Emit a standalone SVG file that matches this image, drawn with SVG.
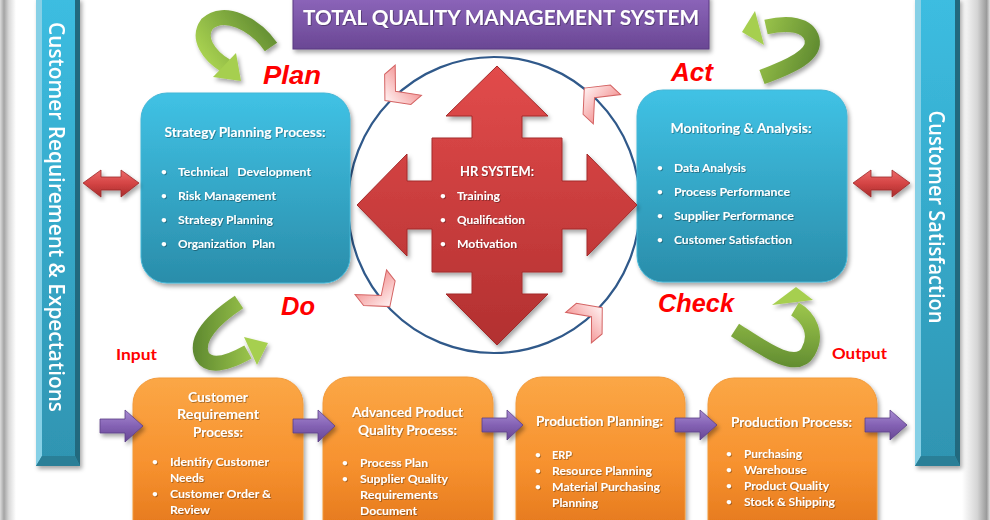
<svg xmlns="http://www.w3.org/2000/svg" width="990" height="520" viewBox="0 0 990 520">
<defs>
<style>
.t{font-family:Lato,"Open Sans","Liberation Sans",sans-serif;font-weight:700;fill:#fff;}
.hd{font-size:13px;text-anchor:middle;}
.it{font-size:12px;}
.bu{font-size:10px;}
.bar{font-family:"Open Sans",Lato,sans-serif;font-weight:600;font-size:21px;fill:#fff;text-anchor:middle;}
.lbl{font-family:"Liberation Sans",Arial,sans-serif;font-weight:700;font-style:italic;fill:#ff0000;font-size:26px;}
.io{font-family:Lato,"Liberation Sans",sans-serif;font-weight:700;fill:#ff0000;font-size:15px;}
.blue{fill:url(#gBlue);stroke:#45b6d6;stroke-width:1;}
.org{fill:url(#gOrg);stroke:#f29a3a;stroke-width:1;}
.pur{fill:url(#gPur);stroke:#5b3f86;stroke-width:0.8;}
.dbl{fill:url(#gRed2);stroke:#9c2b2b;stroke-width:0.8;}
.gr{fill:none;stroke-width:15;}
.sp{white-space:pre;}
</style>
<linearGradient id="gBlue" x1="0" y1="0" x2="0" y2="1"><stop offset="0" stop-color="#40c2e5"/><stop offset="1" stop-color="#2a8daa"/></linearGradient>
<linearGradient id="gOrg" x1="0" y1="0" x2="0" y2="1"><stop offset="0" stop-color="#fba746"/><stop offset="0.5" stop-color="#f7922f"/><stop offset="1" stop-color="#e07218"/></linearGradient>
<linearGradient id="gPur" x1="0" y1="0" x2="0" y2="1"><stop offset="0" stop-color="#a88bd2"/><stop offset="0.5" stop-color="#8462b4"/><stop offset="1" stop-color="#674694"/></linearGradient>
<linearGradient id="gTitle" x1="0" y1="0" x2="0" y2="1"><stop offset="0" stop-color="#8d66bb"/><stop offset="1" stop-color="#6a4794"/></linearGradient>
<linearGradient id="gRed" x1="0" y1="0" x2="0" y2="1"><stop offset="0" stop-color="#e24b4b"/><stop offset="1" stop-color="#b23030"/></linearGradient>
<linearGradient id="gRed2" x1="0" y1="0" x2="0" y2="1"><stop offset="0" stop-color="#ec6a6a"/><stop offset="0.5" stop-color="#d44444"/><stop offset="1" stop-color="#a82c2c"/></linearGradient>
<linearGradient id="gPink" x1="0" y1="0" x2="1" y2="0"><stop offset="0" stop-color="#f49a9a"/><stop offset="1" stop-color="#fff2f2"/></linearGradient>
<linearGradient id="gBarFace" x1="0" y1="0" x2="0" y2="1"><stop offset="0" stop-color="#3cbde1"/><stop offset="1" stop-color="#2f94b1"/></linearGradient>
<linearGradient id="gEdgeL" x1="0" y1="0" x2="1" y2="0"><stop offset="0" stop-color="#dcdcdc"/><stop offset="0.25" stop-color="#a4a4a4"/><stop offset="0.55" stop-color="#d8d8d8"/><stop offset="1" stop-color="#ffffff"/></linearGradient>
<linearGradient id="gEdgeR" x1="0" y1="0" x2="1" y2="0"><stop offset="0" stop-color="#ffffff"/><stop offset="0.55" stop-color="#d4d4d4"/><stop offset="0.88" stop-color="#9a9a9a"/><stop offset="1" stop-color="#e2e2e2"/></linearGradient>
<linearGradient id="gG1" gradientUnits="userSpaceOnUse" x1="280" y1="35" x2="220" y2="80"><stop offset="0" stop-color="#5f8a30"/><stop offset="1" stop-color="#a9d251"/></linearGradient>
<linearGradient id="gG2" gradientUnits="userSpaceOnUse" x1="820" y1="50" x2="745" y2="25"><stop offset="0" stop-color="#5f8a30"/><stop offset="1" stop-color="#a9d251"/></linearGradient>
<linearGradient id="gG3" gradientUnits="userSpaceOnUse" x1="195" y1="345" x2="265" y2="345"><stop offset="0" stop-color="#5f8a30"/><stop offset="1" stop-color="#a9d251"/></linearGradient>
<linearGradient id="gG4" gradientUnits="userSpaceOnUse" x1="790" y1="370" x2="795" y2="290"><stop offset="0" stop-color="#5f8a30"/><stop offset="1" stop-color="#a9d251"/></linearGradient>
<filter id="sh" x="-10%" y="-10%" width="130%" height="130%"><feDropShadow dx="2" dy="3" stdDeviation="2" flood-color="#000" flood-opacity="0.35"/></filter>
<filter id="ts" x="-5%" y="-20%" width="110%" height="150%"><feDropShadow dx="0.8" dy="0.8" stdDeviation="0.6" flood-color="#000" flood-opacity="0.4"/></filter>
<path id="chev" d="M-15,-20 L-1,-20 L16,0 L-1,20 L-15,20 L2,0 Z"/>
</defs>

<rect width="990" height="520" fill="#ffffff"/>
<rect x="0" y="0" width="16" height="520" fill="url(#gEdgeL)"/>
<rect x="962" y="0" width="28" height="520" fill="url(#gEdgeR)"/>

<!-- side bars -->
<g id="bar-left" filter="url(#sh)">
<rect x="36" y="-2" width="44" height="468" fill="url(#gBarFace)"/>
<polygon points="36,-2 42,-2 42,456 36,466" fill="#86d0e6"/>
<polygon points="75,-2 80,-2 80,466 75,456" fill="#22697e"/>
<polygon points="36,466 42,456 75,456 80,466" fill="#2a7f97"/>
<text class="bar" transform="translate(49,217) rotate(90)" textLength="390" lengthAdjust="spacingAndGlyphs">Customer Requirement &amp; Expectations</text>
</g>
<g id="bar-right" filter="url(#sh)">
<rect x="915" y="-2" width="45" height="468" fill="url(#gBarFace)"/>
<polygon points="915,-2 921,-2 921,456 915,466" fill="#86d0e6"/>
<polygon points="955,-2 960,-2 960,466 955,456" fill="#22697e"/>
<polygon points="915,466 921,456 955,456 960,466" fill="#2a7f97"/>
<text class="bar" transform="translate(929,217) rotate(90)" textLength="213" lengthAdjust="spacingAndGlyphs">Customer Satisfaction</text>
</g>

<!-- title -->
<g id="title" filter="url(#sh)">
<rect x="293" y="-4" width="416" height="53" fill="url(#gTitle)" stroke="#5a3b82" stroke-width="1"/>
<text class="t" x="501" y="25" font-size="21" text-anchor="middle" textLength="396" lengthAdjust="spacingAndGlyphs" filter="url(#ts)">TOTAL QUALITY MANAGEMENT SYSTEM</text>
</g>

<!-- circle -->
<g id="cycle-circle">
<ellipse cx="494" cy="205" rx="146" ry="148" fill="none" stroke="#30598a" stroke-width="2.2"/>
</g>

<!-- strategy box -->
<g id="strategy" filter="url(#sh)">
<rect class="blue" x="141" y="93" width="209" height="190" rx="26"/>
<g filter="url(#ts)">
<text class="t hd" x="245" y="137" textLength="161" lengthAdjust="spacingAndGlyphs">Strategy Planning Process:</text>
<text class="t bu" x="161" y="175">•</text><text class="t it sp" x="178" y="176" textLength="133" lengthAdjust="spacingAndGlyphs">Technical   Development</text>
<text class="t bu" x="161" y="199">•</text><text class="t it" x="178" y="200" textLength="98" lengthAdjust="spacingAndGlyphs">Risk Management</text>
<text class="t bu" x="161" y="223">•</text><text class="t it" x="178" y="224" textLength="95" lengthAdjust="spacingAndGlyphs">Strategy Planning</text>
<text class="t bu" x="161" y="247">•</text><text class="t it sp" x="178" y="248" textLength="97" lengthAdjust="spacingAndGlyphs">Organization  Plan</text>
</g>
</g>

<!-- monitoring box -->
<g id="monitoring" filter="url(#sh)">
<rect class="blue" x="637" y="90" width="210" height="192" rx="26"/>
<g filter="url(#ts)">
<text class="t hd" x="741" y="133" textLength="141" lengthAdjust="spacingAndGlyphs">Monitoring &amp; Analysis:</text>
<text class="t bu" x="657" y="171">•</text><text class="t it" x="674" y="172" textLength="72" lengthAdjust="spacingAndGlyphs">Data Analysis</text>
<text class="t bu" x="657" y="195">•</text><text class="t it" x="674" y="196" textLength="116" lengthAdjust="spacingAndGlyphs">Process Performance</text>
<text class="t bu" x="657" y="219">•</text><text class="t it" x="674" y="220" textLength="120" lengthAdjust="spacingAndGlyphs">Supplier Performance</text>
<text class="t bu" x="657" y="243">•</text><text class="t it" x="674" y="244" textLength="118" lengthAdjust="spacingAndGlyphs">Customer Satisfaction</text>
</g>
</g>

<!-- HR system -->
<g id="hr-system">
<polygon filter="url(#sh)" fill="url(#gRed)" stroke="#a32a2a" stroke-width="1" points="497,66 548,116 522,116 522,138 562,138 562,181 587,181 587,154 637,205 587,256 587,229 562,229 562,272 522,272 522,294 548,294 497,345 446,294 472,294 472,272 432,272 432,229 407,229 407,256 357,205 407,154 407,181 432,181 432,138 472,138 472,116 446,116"/>
<g filter="url(#ts)">
<text class="t hd" x="497" y="176" textLength="74" lengthAdjust="spacingAndGlyphs">HR SYSTEM:</text>
<text class="t bu" x="440" y="199">•</text><text class="t it" x="457" y="200" textLength="43" lengthAdjust="spacingAndGlyphs">Training</text>
<text class="t bu" x="440" y="223">•</text><text class="t it" x="457" y="224" textLength="68" lengthAdjust="spacingAndGlyphs">Qualification</text>
<text class="t bu" x="440" y="247">•</text><text class="t it" x="457" y="248" textLength="60" lengthAdjust="spacingAndGlyphs">Motivation</text>
</g>
</g>

<!-- bottom boxes -->
<g id="customer-requirement" filter="url(#sh)">
<rect class="org" x="133" y="378" width="170" height="170" rx="26"/>
<g filter="url(#ts)">
<text class="t hd" x="218" y="402" textLength="60" lengthAdjust="spacingAndGlyphs">Customer</text>
<text class="t hd" x="218" y="419" textLength="82" lengthAdjust="spacingAndGlyphs">Requirement</text>
<text class="t hd" x="218" y="437" textLength="50" lengthAdjust="spacingAndGlyphs">Process:</text>
<text class="t bu" x="152" y="465">•</text><text class="t it" x="170" y="466" textLength="99" lengthAdjust="spacingAndGlyphs">Identify Customer</text>
<text class="t it" x="170" y="482" textLength="34" lengthAdjust="spacingAndGlyphs">Needs</text>
<text class="t bu" x="152" y="497">•</text><text class="t it" x="170" y="498" textLength="101" lengthAdjust="spacingAndGlyphs">Customer Order &amp;</text>
<text class="t it" x="170" y="514" textLength="40" lengthAdjust="spacingAndGlyphs">Review</text>
</g>
</g>
<g id="apqp" filter="url(#sh)">
<rect class="org" x="323" y="377" width="170" height="170" rx="26"/>
<g filter="url(#ts)">
<text class="t hd" x="407.5" y="417" textLength="111" lengthAdjust="spacingAndGlyphs">Advanced Product</text>
<text class="t hd" x="407.5" y="435" textLength="99" lengthAdjust="spacingAndGlyphs">Quality Process:</text>
<text class="t bu" x="342" y="466">•</text><text class="t it" x="360" y="467" textLength="68" lengthAdjust="spacingAndGlyphs">Process Plan</text>
<text class="t bu" x="342" y="482">•</text><text class="t it" x="360" y="483" textLength="88" lengthAdjust="spacingAndGlyphs">Supplier Quality</text>
<text class="t it" x="360" y="499" textLength="78" lengthAdjust="spacingAndGlyphs">Requirements</text>
<text class="t it" x="360" y="515" textLength="57" lengthAdjust="spacingAndGlyphs">Document</text>
</g>
</g>
<g id="production-planning" filter="url(#sh)">
<rect class="org" x="516" y="377" width="169" height="170" rx="26"/>
<g filter="url(#ts)">
<text class="t hd" x="599.5" y="426" textLength="127" lengthAdjust="spacingAndGlyphs">Production Planning:</text>
<text class="t bu" x="535" y="458">•</text><text class="t it" x="552" y="459" textLength="20" lengthAdjust="spacingAndGlyphs">ERP</text>
<text class="t bu" x="535" y="474">•</text><text class="t it" x="552" y="475" textLength="100" lengthAdjust="spacingAndGlyphs">Resource Planning</text>
<text class="t bu" x="535" y="490">•</text><text class="t it" x="552" y="491" textLength="108" lengthAdjust="spacingAndGlyphs">Material Purchasing</text>
<text class="t it" x="552" y="507" textLength="46" lengthAdjust="spacingAndGlyphs">Planning</text>
</g>
</g>
<g id="production-process" filter="url(#sh)">
<rect class="org" x="708" y="378" width="169" height="170" rx="26"/>
<g filter="url(#ts)">
<text class="t hd" x="791.5" y="427" textLength="121" lengthAdjust="spacingAndGlyphs">Production Process:</text>
<text class="t bu" x="726" y="457">•</text><text class="t it" x="744" y="458" textLength="58" lengthAdjust="spacingAndGlyphs">Purchasing</text>
<text class="t bu" x="726" y="473">•</text><text class="t it" x="744" y="474" textLength="63" lengthAdjust="spacingAndGlyphs">Warehouse</text>
<text class="t bu" x="726" y="489">•</text><text class="t it" x="744" y="490" textLength="85" lengthAdjust="spacingAndGlyphs">Product Quality</text>
<text class="t bu" x="726" y="505">•</text><text class="t it" x="744" y="506" textLength="91" lengthAdjust="spacingAndGlyphs">Stock &amp; Shipping</text>
</g>
</g>

<!-- labels -->
<g id="labels">
<text class="lbl" x="263" y="84" textLength="58" lengthAdjust="spacingAndGlyphs">Plan</text>
<text class="lbl" x="671" y="81" textLength="42" lengthAdjust="spacingAndGlyphs">Act</text>
<text class="lbl" x="281" y="315" textLength="34" lengthAdjust="spacingAndGlyphs">Do</text>
<text class="lbl" x="658" y="312" textLength="76" lengthAdjust="spacingAndGlyphs">Check</text>
<text class="io" x="116" y="360" textLength="41" lengthAdjust="spacingAndGlyphs">Input</text>
<text class="io" x="832" y="359" textLength="55" lengthAdjust="spacingAndGlyphs">Output</text>
</g>

<!-- connectors -->
<g id="connectors">
<!-- red double arrows -->
<polygon class="dbl" filter="url(#sh)" points="83,183 101,170 101,177 121,177 121,170 139,183 121,197 121,190 101,190 101,197"/>
<polygon class="dbl" filter="url(#sh)" points="853,183 871,170 871,177 892,177 892,170 910,183 892,197 892,190 871,190 871,197"/>
<!-- purple flow arrows -->
<polygon class="pur" filter="url(#sh)" points="100,419 125,419 125,410 143,426 125,442 125,433 100,433"/>
<polygon class="pur" filter="url(#sh)" points="293,419 318,419 318,410 335,426 318,442 318,433 293,433"/>
<polygon class="pur" filter="url(#sh)" points="482,418 507,418 507,410 523,425 507,440 507,432 482,432"/>
<polygon class="pur" filter="url(#sh)" points="675,418 700,418 700,410 717,425 700,440 700,432 675,432"/>
<polygon class="pur" filter="url(#sh)" points="865,418 890,418 890,410 907,425 890,440 890,432 865,432"/>
<!-- pink chevrons around circle -->
<g fill="url(#gPink)" stroke="#d46464" stroke-width="1">
<use href="#chev" transform="translate(397,90) rotate(139)"/>
<use href="#chev" transform="translate(596,99) rotate(223)"/>
<use href="#chev" transform="translate(380,294) rotate(52)"/>
<use href="#chev" transform="translate(590,318) rotate(-40)"/>
</g>
<!-- green PDCA arrows -->
<g filter="url(#sh)">
<path class="gr" stroke="url(#gG1)" d="M271,47 C255,24 224,8 207,24 C197,38 208,55 226,66"/>
<polygon fill="#a6cf4f" points="213,77 236,53 241,81"/>
<path class="gr" stroke="url(#gG2)" d="M762,77 C792,66 816,55 812,39 C808,24 788,22 766,27"/>
<polygon fill="#a6cf4f" points="755,11 764,45 742,32"/>
<path class="gr" stroke="url(#gG3)" d="M239,302 C215,318 194,338 202,356 C210,369 230,362 248,352"/>
<polygon fill="#a6cf4f" points="244,337 257,365 268,343"/>
<path class="gr" stroke="url(#gG4)" d="M735,330 C760,346 796,373 808,352 C818,335 810,318 795,309"/>
<polygon fill="#a6cf4f" points="772,305 813,300 796,287"/>
</g>
</g>
</svg>
